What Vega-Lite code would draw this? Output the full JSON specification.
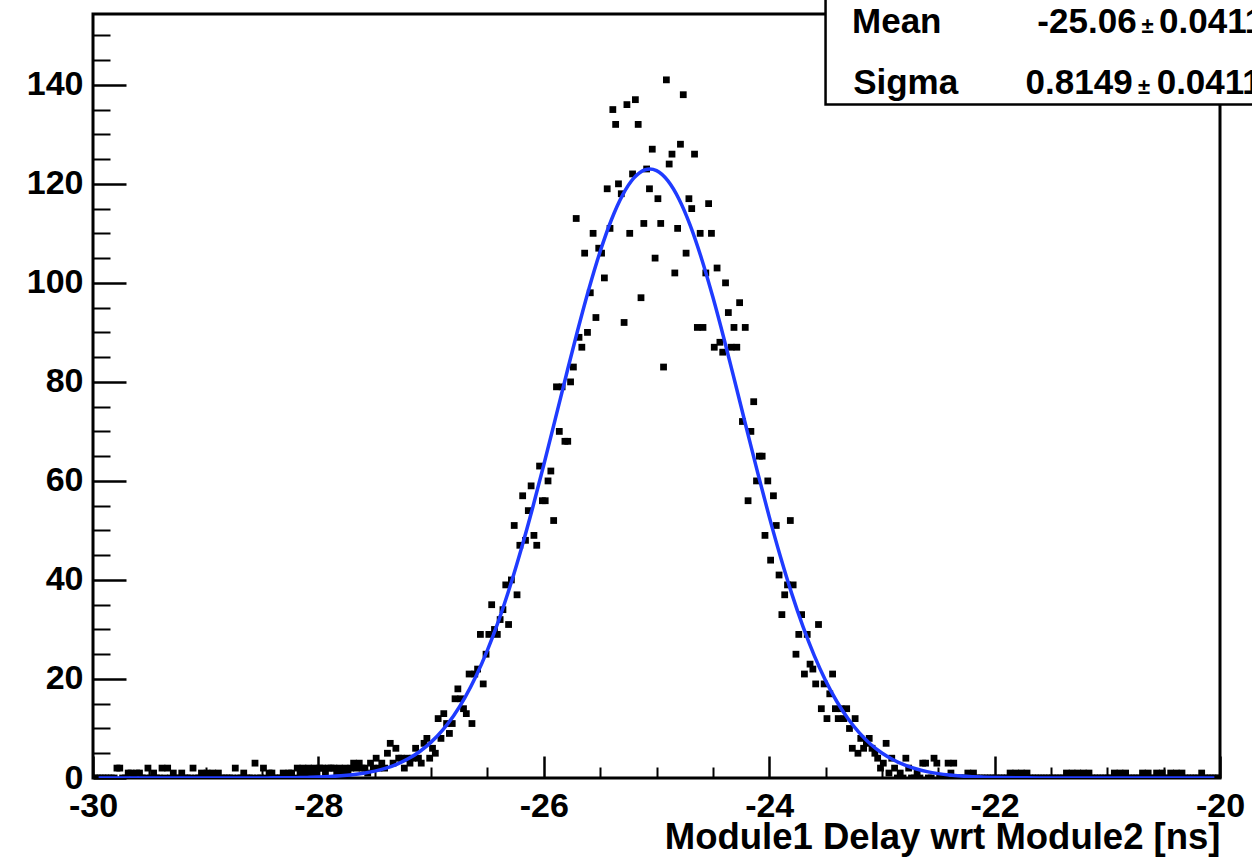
{
  "$schema": "https://vega.github.io/schema/vega-lite/v6.json",
  "width": 1127,
  "height": 764,
  "autosize": {"type": "none"},
  "padding": {"left": 93, "top": 14, "right": 32, "bottom": 80},
  "background": "white",
  "config": {
    "view": {"stroke": "black", "strokeWidth": 3},
    "axis": {
      "labelFont": "Liberation Sans",
      "labelFontWeight": "bold",
      "labelFontSize": 34,
      "labelColor": "black",
      "tickColor": "black",
      "grid": false,
      "domain": false,
      "labelFlush": false,
      "labelOverlap": false,
      "labelBound": false
    }
  },
  "resolve": {"axis": {"x": "independent", "y": "independent"}},
  "datasets": {
    "hist": [
      {"x":-29.9875,"y":0},{"x":-29.9625,"y":0},{"x":-29.9375,"y":0},{"x":-29.9125,"y":0},
      {"x":-29.8875,"y":0},{"x":-29.8625,"y":0},{"x":-29.8375,"y":0},{"x":-29.8125,"y":0},
      {"x":-29.7875,"y":2},{"x":-29.7625,"y":2},{"x":-29.7375,"y":0},{"x":-29.7125,"y":0},
      {"x":-29.6875,"y":1},{"x":-29.6625,"y":1},{"x":-29.6375,"y":0},{"x":-29.6125,"y":1},
      {"x":-29.5875,"y":1},{"x":-29.5625,"y":0},{"x":-29.5375,"y":0},{"x":-29.5125,"y":2},
      {"x":-29.4875,"y":0},{"x":-29.4625,"y":1},{"x":-29.4375,"y":0},{"x":-29.4125,"y":0},
      {"x":-29.3875,"y":2},{"x":-29.3625,"y":0},{"x":-29.3375,"y":2},{"x":-29.3125,"y":0},
      {"x":-29.2875,"y":1},{"x":-29.2625,"y":0},{"x":-29.2375,"y":0},{"x":-29.2125,"y":1},
      {"x":-29.1875,"y":0},{"x":-29.1625,"y":0},{"x":-29.1375,"y":0},{"x":-29.1125,"y":2},
      {"x":-29.0875,"y":0},{"x":-29.0625,"y":0},{"x":-29.0375,"y":1},{"x":-29.0125,"y":0},
      {"x":-28.9875,"y":1},{"x":-28.9625,"y":0},{"x":-28.9375,"y":1},{"x":-28.9125,"y":0},
      {"x":-28.8875,"y":1},{"x":-28.8625,"y":0},{"x":-28.8375,"y":0},{"x":-28.8125,"y":0},
      {"x":-28.7875,"y":0},{"x":-28.7625,"y":0},{"x":-28.7375,"y":2},{"x":-28.7125,"y":0},
      {"x":-28.6875,"y":0},{"x":-28.6625,"y":1},{"x":-28.6375,"y":0},{"x":-28.6125,"y":0},
      {"x":-28.5875,"y":0},{"x":-28.5625,"y":3},{"x":-28.5375,"y":0},{"x":-28.5125,"y":0},
      {"x":-28.4875,"y":2},{"x":-28.4625,"y":0},{"x":-28.4375,"y":1},{"x":-28.4125,"y":1},
      {"x":-28.3875,"y":0},{"x":-28.3625,"y":0},{"x":-28.3375,"y":0},{"x":-28.3125,"y":1},
      {"x":-28.2875,"y":0},{"x":-28.2625,"y":1},{"x":-28.2375,"y":1},{"x":-28.2125,"y":0},
      {"x":-28.1875,"y":2},{"x":-28.1625,"y":1},{"x":-28.1375,"y":2},{"x":-28.1125,"y":1},
      {"x":-28.0875,"y":2},{"x":-28.0625,"y":1},{"x":-28.0375,"y":2},{"x":-28.0125,"y":1},
      {"x":-27.9875,"y":2},{"x":-27.9625,"y":2},{"x":-27.9375,"y":1},{"x":-27.9125,"y":2},
      {"x":-27.8875,"y":2},{"x":-27.8625,"y":2},{"x":-27.8375,"y":1},{"x":-27.8125,"y":2},
      {"x":-27.7875,"y":1},{"x":-27.7625,"y":2},{"x":-27.7375,"y":1},{"x":-27.7125,"y":2},
      {"x":-27.6875,"y":3},{"x":-27.6625,"y":2},{"x":-27.6375,"y":3},{"x":-27.6125,"y":2},
      {"x":-27.5875,"y":2},{"x":-27.5625,"y":1},{"x":-27.5375,"y":3},{"x":-27.5125,"y":2},
      {"x":-27.4875,"y":4},{"x":-27.4625,"y":2},{"x":-27.4375,"y":3},{"x":-27.4125,"y":2},
      {"x":-27.3875,"y":5},{"x":-27.3625,"y":7},{"x":-27.3375,"y":3},{"x":-27.3125,"y":6},
      {"x":-27.2875,"y":4},{"x":-27.2625,"y":4},{"x":-27.2375,"y":2},{"x":-27.2125,"y":4},
      {"x":-27.1875,"y":3},{"x":-27.1625,"y":4},{"x":-27.1375,"y":6},{"x":-27.1125,"y":4},
      {"x":-27.0875,"y":3},{"x":-27.0625,"y":7},{"x":-27.0375,"y":8},{"x":-27.0125,"y":4},
      {"x":-26.9875,"y":6},{"x":-26.9625,"y":5},{"x":-26.9375,"y":12},{"x":-26.9125,"y":8},
      {"x":-26.8875,"y":13},{"x":-26.8625,"y":11},{"x":-26.8375,"y":9},{"x":-26.8125,"y":11},
      {"x":-26.7875,"y":16},{"x":-26.7625,"y":18},{"x":-26.7375,"y":16},{"x":-26.7125,"y":14},
      {"x":-26.6875,"y":13},{"x":-26.6625,"y":21},{"x":-26.6375,"y":11},{"x":-26.6125,"y":21},
      {"x":-26.5875,"y":22},{"x":-26.5625,"y":29},{"x":-26.5375,"y":19},{"x":-26.5125,"y":25},
      {"x":-26.4875,"y":29},{"x":-26.4625,"y":35},{"x":-26.4375,"y":30},{"x":-26.4125,"y":29},
      {"x":-26.3875,"y":32},{"x":-26.3625,"y":34},{"x":-26.3375,"y":39},{"x":-26.3125,"y":31},
      {"x":-26.2875,"y":40},{"x":-26.2625,"y":51},{"x":-26.2375,"y":37},{"x":-26.2125,"y":47},
      {"x":-26.1875,"y":57},{"x":-26.1625,"y":48},{"x":-26.1375,"y":54},{"x":-26.1125,"y":59},
      {"x":-26.0875,"y":49},{"x":-26.0625,"y":47},{"x":-26.0375,"y":63},{"x":-26.0125,"y":56},
      {"x":-25.9875,"y":56},{"x":-25.9625,"y":60},{"x":-25.9375,"y":62},{"x":-25.9125,"y":52},
      {"x":-25.8875,"y":79},{"x":-25.8625,"y":70},{"x":-25.8375,"y":79},{"x":-25.8125,"y":68},
      {"x":-25.7875,"y":68},{"x":-25.7625,"y":80},{"x":-25.7375,"y":83},{"x":-25.7125,"y":113},
      {"x":-25.6875,"y":89},{"x":-25.6625,"y":87},{"x":-25.6375,"y":106},{"x":-25.6125,"y":90},
      {"x":-25.5875,"y":98},{"x":-25.5625,"y":110},{"x":-25.5375,"y":93},{"x":-25.5125,"y":107},
      {"x":-25.4875,"y":106},{"x":-25.4625,"y":101},{"x":-25.4375,"y":119},{"x":-25.4125,"y":111},
      {"x":-25.3875,"y":135},{"x":-25.3625,"y":132},{"x":-25.3375,"y":120},{"x":-25.3125,"y":118},
      {"x":-25.2875,"y":92},{"x":-25.2625,"y":136},{"x":-25.2375,"y":110},{"x":-25.2125,"y":122},
      {"x":-25.1875,"y":137},{"x":-25.1625,"y":132},{"x":-25.1375,"y":97},{"x":-25.1125,"y":112},
      {"x":-25.0875,"y":123},{"x":-25.0625,"y":119},{"x":-25.0375,"y":127},{"x":-25.0125,"y":105},
      {"x":-24.9875,"y":117},{"x":-24.9625,"y":112},{"x":-24.9375,"y":83},{"x":-24.9125,"y":141},
      {"x":-24.8875,"y":124},{"x":-24.8625,"y":126},{"x":-24.8375,"y":102},{"x":-24.8125,"y":111},
      {"x":-24.7875,"y":128},{"x":-24.7625,"y":138},{"x":-24.7375,"y":106},{"x":-24.7125,"y":117},
      {"x":-24.6875,"y":115},{"x":-24.6625,"y":126},{"x":-24.6375,"y":91},{"x":-24.6125,"y":110},
      {"x":-24.5875,"y":91},{"x":-24.5625,"y":102},{"x":-24.5375,"y":116},{"x":-24.5125,"y":110},
      {"x":-24.4875,"y":87},{"x":-24.4625,"y":103},{"x":-24.4375,"y":88},{"x":-24.4125,"y":86},
      {"x":-24.3875,"y":100},{"x":-24.3625,"y":94},{"x":-24.3375,"y":87},{"x":-24.3125,"y":91},
      {"x":-24.2875,"y":87},{"x":-24.2625,"y":96},{"x":-24.2375,"y":72},{"x":-24.2125,"y":91},
      {"x":-24.1875,"y":56},{"x":-24.1625,"y":70},{"x":-24.1375,"y":76},{"x":-24.1125,"y":60},
      {"x":-24.0875,"y":65},{"x":-24.0625,"y":65},{"x":-24.0375,"y":49},{"x":-24.0125,"y":60},
      {"x":-23.9875,"y":44},{"x":-23.9625,"y":57},{"x":-23.9375,"y":51},{"x":-23.9125,"y":41},
      {"x":-23.8875,"y":33},{"x":-23.8625,"y":37},{"x":-23.8375,"y":39},{"x":-23.8125,"y":52},
      {"x":-23.7875,"y":39},{"x":-23.7625,"y":25},{"x":-23.7375,"y":29},{"x":-23.7125,"y":33},
      {"x":-23.6875,"y":21},{"x":-23.6625,"y":29},{"x":-23.6375,"y":23},{"x":-23.6125,"y":22},
      {"x":-23.5875,"y":19},{"x":-23.5625,"y":31},{"x":-23.5375,"y":14},{"x":-23.5125,"y":19},
      {"x":-23.4875,"y":12},{"x":-23.4625,"y":17},{"x":-23.4375,"y":21},{"x":-23.4125,"y":14},
      {"x":-23.3875,"y":12},{"x":-23.3625,"y":14},{"x":-23.3375,"y":12},{"x":-23.3125,"y":14},
      {"x":-23.2875,"y":10},{"x":-23.2625,"y":6},{"x":-23.2375,"y":12},{"x":-23.2125,"y":5},
      {"x":-23.1875,"y":8},{"x":-23.1625,"y":6},{"x":-23.1375,"y":7},{"x":-23.1125,"y":8},
      {"x":-23.0875,"y":6},{"x":-23.0625,"y":5},{"x":-23.0375,"y":4},{"x":-23.0125,"y":2},
      {"x":-22.9875,"y":3},{"x":-22.9625,"y":7},{"x":-22.9375,"y":1},{"x":-22.9125,"y":4},
      {"x":-22.8875,"y":2},{"x":-22.8625,"y":0},{"x":-22.8375,"y":1},{"x":-22.8125,"y":0},
      {"x":-22.7875,"y":4},{"x":-22.7625,"y":2},{"x":-22.7375,"y":0},{"x":-22.7125,"y":0},
      {"x":-22.6875,"y":1},{"x":-22.6625,"y":0},{"x":-22.6375,"y":3},{"x":-22.6125,"y":3},
      {"x":-22.5875,"y":0},{"x":-22.5625,"y":0},{"x":-22.5375,"y":4},{"x":-22.5125,"y":3},
      {"x":-22.4875,"y":0},{"x":-22.4625,"y":0},{"x":-22.4375,"y":0},{"x":-22.4125,"y":3},
      {"x":-22.3875,"y":1},{"x":-22.3625,"y":3},{"x":-22.3375,"y":0},{"x":-22.3125,"y":0},
      {"x":-22.2875,"y":0},{"x":-22.2625,"y":0},{"x":-22.2375,"y":1},{"x":-22.2125,"y":0},
      {"x":-22.1875,"y":1},{"x":-22.1625,"y":0},{"x":-22.1375,"y":0},{"x":-22.1125,"y":0},
      {"x":-22.0875,"y":0},{"x":-22.0625,"y":0},{"x":-22.0375,"y":0},{"x":-22.0125,"y":0},
      {"x":-21.9875,"y":0},{"x":-21.9625,"y":0},{"x":-21.9375,"y":0},{"x":-21.9125,"y":0},
      {"x":-21.8875,"y":0},{"x":-21.8625,"y":1},{"x":-21.8375,"y":0},{"x":-21.8125,"y":1},
      {"x":-21.7875,"y":0},{"x":-21.7625,"y":1},{"x":-21.7375,"y":0},{"x":-21.7125,"y":1},
      {"x":-21.6875,"y":0},{"x":-21.6625,"y":0},{"x":-21.6375,"y":0},{"x":-21.6125,"y":0},
      {"x":-21.5875,"y":0},{"x":-21.5625,"y":0},{"x":-21.5375,"y":0},{"x":-21.5125,"y":0},
      {"x":-21.4875,"y":0},{"x":-21.4625,"y":0},{"x":-21.4375,"y":0},{"x":-21.4125,"y":0},
      {"x":-21.3875,"y":0},{"x":-21.3625,"y":1},{"x":-21.3375,"y":0},{"x":-21.3125,"y":1},
      {"x":-21.2875,"y":0},{"x":-21.2625,"y":1},{"x":-21.2375,"y":0},{"x":-21.2125,"y":1},
      {"x":-21.1875,"y":0},{"x":-21.1625,"y":1},{"x":-21.1375,"y":0},{"x":-21.1125,"y":0},
      {"x":-21.0875,"y":0},{"x":-21.0625,"y":0},{"x":-21.0375,"y":0},{"x":-21.0125,"y":0},
      {"x":-20.9875,"y":0},{"x":-20.9625,"y":0},{"x":-20.9375,"y":1},{"x":-20.9125,"y":0},
      {"x":-20.8875,"y":1},{"x":-20.8625,"y":0},{"x":-20.8375,"y":1},{"x":-20.8125,"y":0},
      {"x":-20.7875,"y":0},{"x":-20.7625,"y":0},{"x":-20.7375,"y":0},{"x":-20.7125,"y":0},
      {"x":-20.6875,"y":1},{"x":-20.6625,"y":0},{"x":-20.6375,"y":1},{"x":-20.6125,"y":0},
      {"x":-20.5875,"y":0},{"x":-20.5625,"y":1},{"x":-20.5375,"y":0},{"x":-20.5125,"y":1},
      {"x":-20.4875,"y":0},{"x":-20.4625,"y":0},{"x":-20.4375,"y":1},{"x":-20.4125,"y":0},
      {"x":-20.3875,"y":1},{"x":-20.3625,"y":0},{"x":-20.3375,"y":1},{"x":-20.3125,"y":0},
      {"x":-20.2875,"y":0},{"x":-20.2625,"y":0},{"x":-20.2375,"y":0},{"x":-20.2125,"y":0},
      {"x":-20.1875,"y":0},{"x":-20.1625,"y":1},{"x":-20.1375,"y":0},{"x":-20.1125,"y":0},
      {"x":-20.0875,"y":0},{"x":-20.0625,"y":0},{"x":-20.0375,"y":0},{"x":-20.0125,"y":0}
    ],
    "fit": [
      {"x":-29.95,"y":0},{"x":-29.5,"y":0},{"x":-29.0,"y":0.001},{"x":-28.8,"y":0.003},
      {"x":-28.6,"y":0.01},{"x":-28.5,"y":0.017},{"x":-28.4,"y":0.028},{"x":-28.3,"y":0.046},
      {"x":-28.2,"y":0.074},{"x":-28.1,"y":0.117},{"x":-28.0,"y":0.184},{"x":-27.9,"y":0.284},
      {"x":-27.8,"y":0.432},{"x":-27.7,"y":0.648},{"x":-27.6,"y":0.956},{"x":-27.5,"y":1.39},
      {"x":-27.4,"y":1.99},{"x":-27.3,"y":2.82},{"x":-27.2,"y":3.92},{"x":-27.1,"y":5.36},
      {"x":-27.0,"y":7.24},{"x":-26.9,"y":9.62},{"x":-26.8,"y":12.59},{"x":-26.7,"y":16.24},
      {"x":-26.6,"y":20.64},{"x":-26.5,"y":25.82},{"x":-26.4,"y":31.83},{"x":-26.3,"y":38.67},
      {"x":-26.2,"y":46.26},{"x":-26.1,"y":54.49},{"x":-26.0,"y":63.26},{"x":-25.9,"y":72.32},
      {"x":-25.8,"y":81.45},{"x":-25.7,"y":90.37},{"x":-25.6,"y":98.76},{"x":-25.5,"y":106.32},
      {"x":-25.4,"y":112.75},{"x":-25.3,"y":117.78},{"x":-25.2,"y":121.2},{"x":-25.1,"y":122.85},
      {"x":-25.06,"y":123.0},{"x":-25.0,"y":122.67},{"x":-24.9,"y":120.65},{"x":-24.8,"y":116.9},
      {"x":-24.7,"y":111.57},{"x":-24.6,"y":104.88},{"x":-24.5,"y":97.13},{"x":-24.4,"y":88.62},
      {"x":-24.3,"y":79.63},{"x":-24.2,"y":70.49},{"x":-24.1,"y":61.46},{"x":-24.0,"y":52.79},
      {"x":-23.9,"y":44.67},{"x":-23.8,"y":37.23},{"x":-23.7,"y":30.57},{"x":-23.6,"y":24.72},
      {"x":-23.5,"y":19.69},{"x":-23.4,"y":15.45},{"x":-23.3,"y":11.95},{"x":-23.2,"y":9.1},
      {"x":-23.1,"y":6.82},{"x":-23.0,"y":5.04},{"x":-22.9,"y":3.67},{"x":-22.8,"y":2.63},
      {"x":-22.7,"y":1.86},{"x":-22.6,"y":1.29},{"x":-22.5,"y":0.886},{"x":-22.4,"y":0.598},
      {"x":-22.3,"y":0.398},{"x":-22.2,"y":0.261},{"x":-22.1,"y":0.168},{"x":-22.0,"y":0.107},
      {"x":-21.8,"y":0.041},{"x":-21.6,"y":0.015},{"x":-21.4,"y":0.005},{"x":-21.0,"y":0.0005},
      {"x":-20.5,"y":0},{"x":-20.05,"y":0}
    ]
  },
  "layer": [
    {
      "data": {"name": "hist"},
      "mark": {"type": "square", "size": 46, "color": "black", "filled": true, "opacity": 1, "clip": true},
      "encoding": {
        "x": {
          "field": "x", "type": "quantitative",
          "scale": {"domain": [-30, -20], "nice": false, "zero": false},
          "axis": {
            "orient": "bottom", "values": [-30, -28, -26, -24, -22, -20],
            "ticks": false, "labelPadding": 11, "labelBaseline": "top",
            "labelExpr": "datum.value + ''",
            "title": "Module1 Delay wrt Module2 [ns]",
            "titleFont": "Liberation Sans", "titleFontWeight": "bold", "titleFontSize": 36.5,
            "titleColor": "black", "titleAnchor": "end", "titleAlign": "right",
            "titleBaseline": "alphabetic", "titleY": 70
          }
        },
        "y": {
          "field": "y", "type": "quantitative",
          "scale": {"domain": [0, 154.3], "nice": false, "zero": false},
          "axis": {
            "orient": "left", "values": [0, 20, 40, 60, 80, 100, 120, 140],
            "ticks": false, "labelPadding": 10, "labelExpr": "datum.value + ''", "title": null
          }
        }
      }
    },
    {
      "data": {"name": "fit"},
      "mark": {"type": "line", "color": "#1f3bff", "strokeWidth": 3.5, "interpolate": "monotone", "clip": true},
      "encoding": {
        "x": {
          "field": "x", "type": "quantitative",
          "axis": {"orient": "bottom", "values": [-30, -28, -26, -24, -22, -20], "labels": false,
                   "tickSize": -22, "tickWidth": 2.5, "title": null}
        },
        "y": {
          "field": "y", "type": "quantitative",
          "axis": {"orient": "left", "values": [0, 20, 40, 60, 80, 100, 120, 140], "labels": false,
                   "tickSize": -33, "tickWidth": 2.5, "title": null}
        }
      }
    },
    {
      "data": {"name": "fit"},
      "mark": {"type": "point", "opacity": 0},
      "encoding": {
        "x": {
          "field": "x", "type": "quantitative",
          "axis": {"orient": "bottom", "labels": false, "tickSize": -11, "tickWidth": 2, "title": null,
                   "values": [-29.5, -29, -28.5, -27.5, -27, -26.5, -25.5, -25, -24.5, -23.5, -23, -22.5, -21.5, -21, -20.5]}
        },
        "y": {
          "field": "y", "type": "quantitative",
          "axis": {"orient": "left", "labels": false, "tickSize": -17, "tickWidth": 2, "title": null,
                   "values": [5, 10, 15, 25, 30, 35, 45, 50, 55, 65, 70, 75, 85, 90, 95, 105, 110, 115, 125, 130, 135, 145, 150]}
        }
      }
    },
    {
      "data": {"values": [{}]},
      "mark": {"type": "rect", "fill": "white", "stroke": "black", "strokeWidth": 2.5, "clip": false},
      "encoding": {
        "x": {"datum": -23.5, "type": "quantitative", "axis": null},
        "x2": {"datum": -19},
        "y": {"datum": 136, "type": "quantitative", "axis": null},
        "y2": {"datum": 175}
      }
    },
    {
      "data": {"values": [{}]},
      "mark": {"type": "text", "text": "Mean", "font": "Liberation Sans", "fontWeight": "bold", "fontSize": 35, "align": "left", "baseline": "alphabetic", "color": "black", "clip": false},
      "encoding": {"x": {"datum": -23.265, "type": "quantitative", "axis": null}, "y": {"datum": 150.5, "type": "quantitative", "axis": null}}
    },
    {
      "data": {"values": [{}]},
      "mark": {"type": "text", "text": "-25.06", "font": "Liberation Sans", "fontWeight": "bold", "fontSize": 35, "align": "right", "baseline": "alphabetic", "color": "black", "clip": false},
      "encoding": {"x": {"datum": -20.74, "type": "quantitative", "axis": null}, "y": {"datum": 150.5, "type": "quantitative", "axis": null}}
    },
    {
      "data": {"values": [{}]},
      "mark": {"type": "text", "text": "±", "font": "Liberation Sans", "fontWeight": "bold", "fontSize": 22, "align": "center", "baseline": "alphabetic", "color": "black", "clip": false},
      "encoding": {"x": {"datum": -20.643, "type": "quantitative", "axis": null}, "y": {"datum": 150.5, "type": "quantitative", "axis": null}}
    },
    {
      "data": {"values": [{}]},
      "mark": {"type": "text", "text": "0.0411", "font": "Liberation Sans", "fontWeight": "bold", "fontSize": 35, "align": "left", "baseline": "alphabetic", "color": "black", "clip": false},
      "encoding": {"x": {"datum": -20.541, "type": "quantitative", "axis": null}, "y": {"datum": 150.5, "type": "quantitative", "axis": null}}
    },
    {
      "data": {"values": [{}]},
      "mark": {"type": "text", "text": "Sigma", "font": "Liberation Sans", "fontWeight": "bold", "fontSize": 35, "align": "left", "baseline": "alphabetic", "color": "black", "clip": false},
      "encoding": {"x": {"datum": -23.255, "type": "quantitative", "axis": null}, "y": {"datum": 138.2, "type": "quantitative", "axis": null}}
    },
    {
      "data": {"values": [{}]},
      "mark": {"type": "text", "text": "0.8149", "font": "Liberation Sans", "fontWeight": "bold", "fontSize": 35, "align": "right", "baseline": "alphabetic", "color": "black", "clip": false},
      "encoding": {"x": {"datum": -20.775, "type": "quantitative", "axis": null}, "y": {"datum": 138.2, "type": "quantitative", "axis": null}}
    },
    {
      "data": {"values": [{}]},
      "mark": {"type": "text", "text": "±", "font": "Liberation Sans", "fontWeight": "bold", "fontSize": 22, "align": "center", "baseline": "alphabetic", "color": "black", "clip": false},
      "encoding": {"x": {"datum": -20.673, "type": "quantitative", "axis": null}, "y": {"datum": 138.2, "type": "quantitative", "axis": null}}
    },
    {
      "data": {"values": [{}]},
      "mark": {"type": "text", "text": "0.0411", "font": "Liberation Sans", "fontWeight": "bold", "fontSize": 35, "align": "left", "baseline": "alphabetic", "color": "black", "clip": false},
      "encoding": {"x": {"datum": -20.562, "type": "quantitative", "axis": null}, "y": {"datum": 138.2, "type": "quantitative", "axis": null}}
    }
  ]
}
